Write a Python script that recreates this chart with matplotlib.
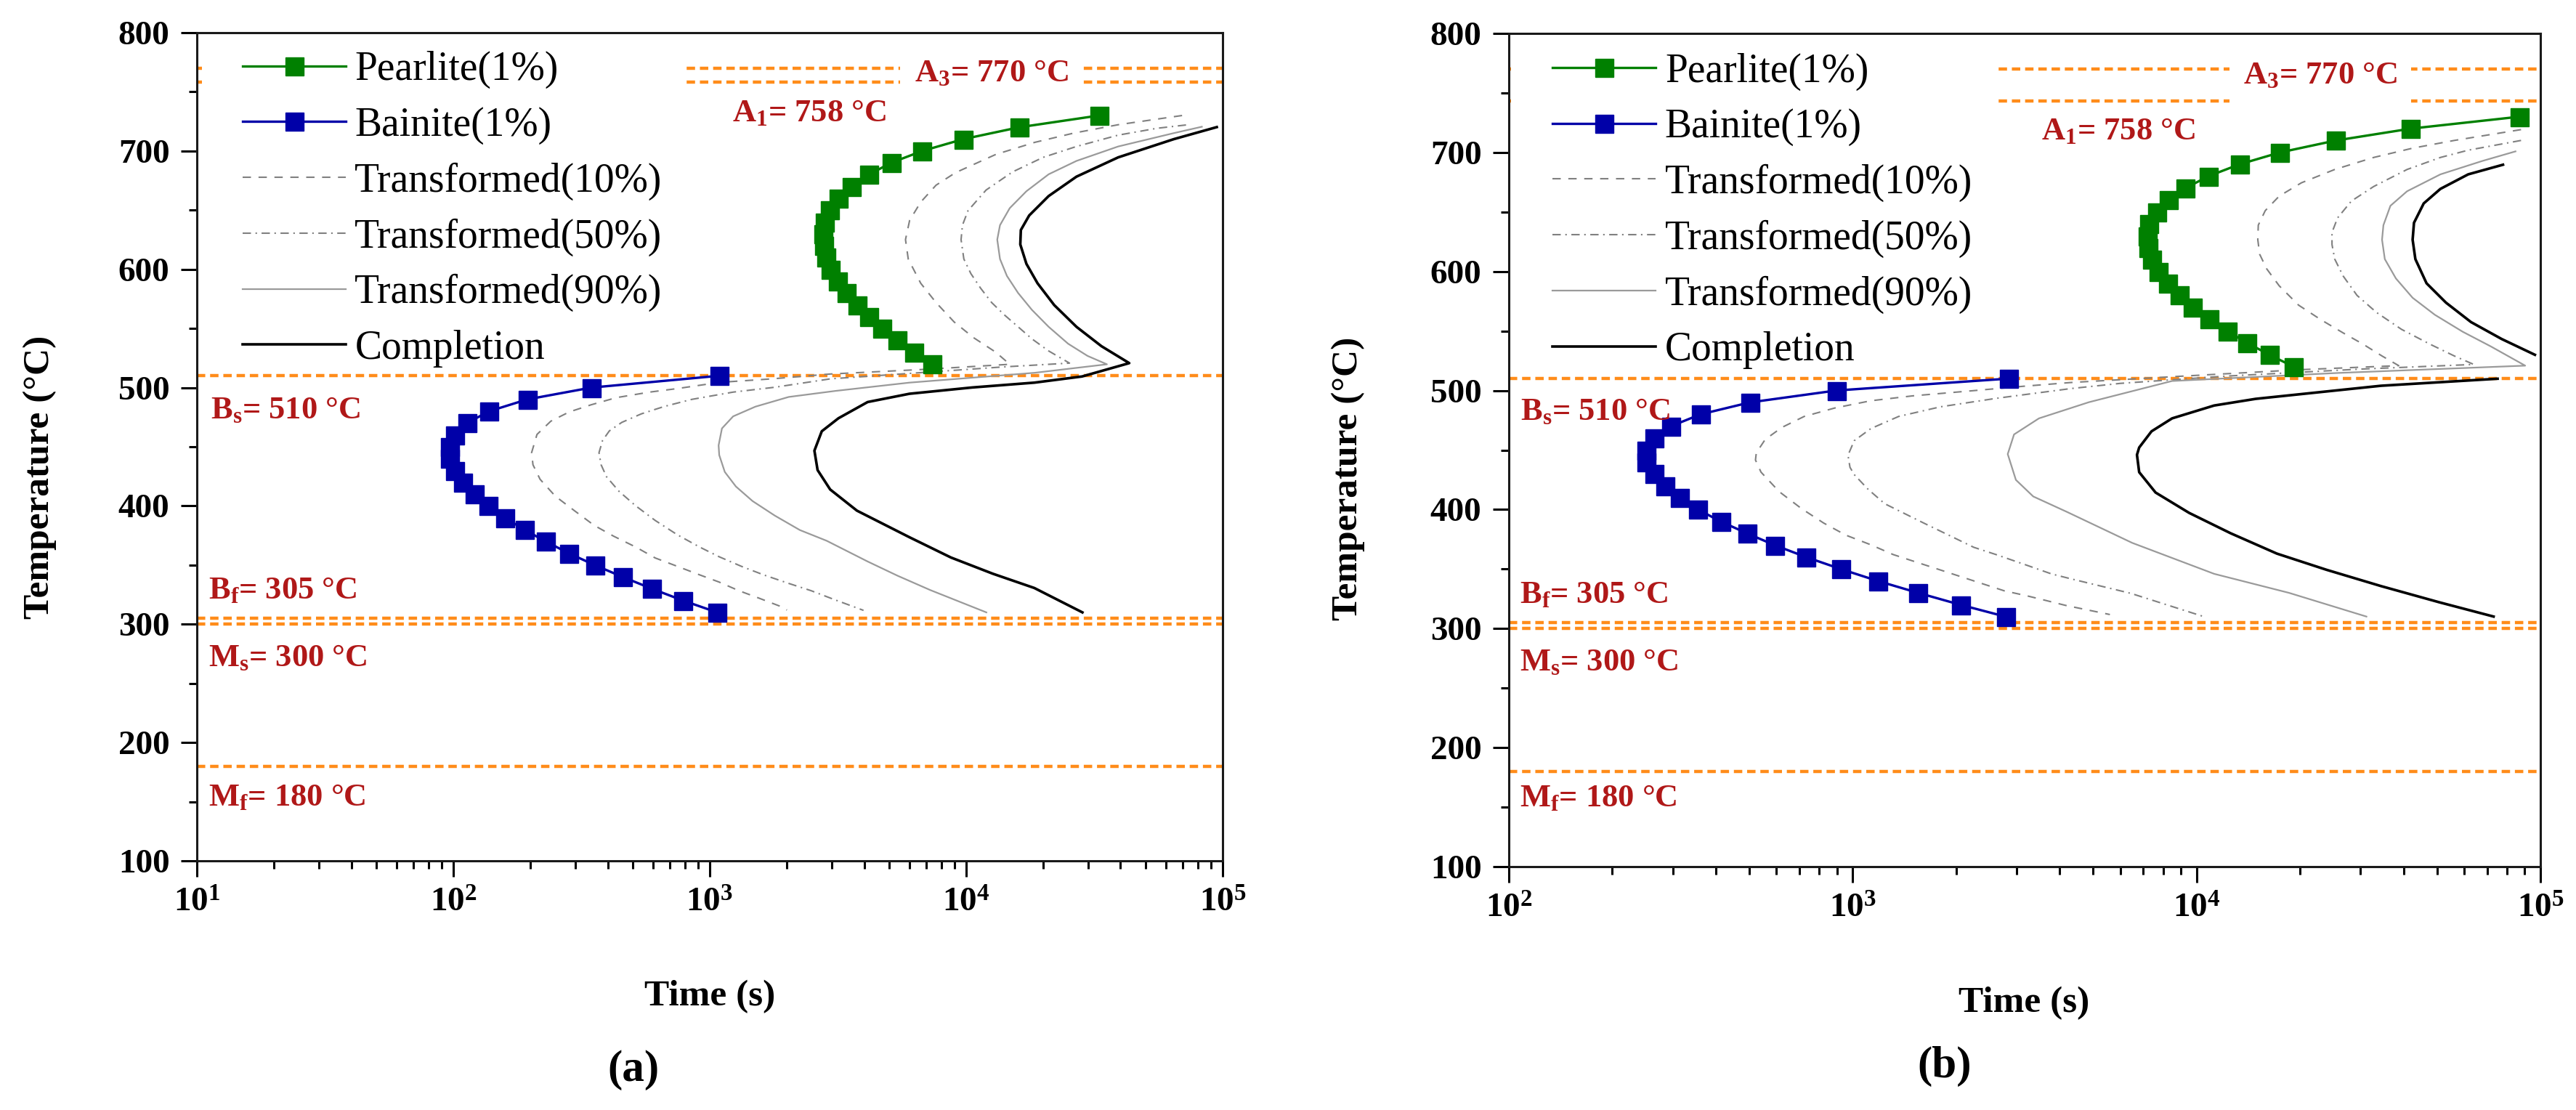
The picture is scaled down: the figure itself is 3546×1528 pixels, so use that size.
import math

import matplotlib
matplotlib.use("Agg")
import matplotlib.pyplot as plt
from matplotlib.ticker import MultipleLocator, LogLocator, FuncFormatter, NullFormatter
from matplotlib.transforms import blended_transform_factory
from matplotlib.patches import Rectangle

plt.rcParams["font.family"] = ["Liberation Serif", "DejaVu Serif"]
plt.rcParams["mathtext.default"] = "regular"

# ---------------- data ----------------
PEARLITE_T = [730, 720, 710, 700, 690, 680, 670, 660, 650, 640, 630,
              620, 610, 600, 590, 580, 570, 560, 550, 540, 530, 520]
BAINITE_T = [510, 500, 490, 480, 470, 460, 450, 440, 430, 420, 410,
             400, 390, 380, 370, 360, 350, 340, 330, 320, 310]

# panel (a)
A_PEARLITE_TIME = [32990, 16060, 9743, 6735, 5095, 4173, 3564, 3171, 2942, 2797, 2763,
                   2777, 2847, 2953, 3146, 3415, 3748, 4173, 4693, 5382, 6252, 7350]
A_BAINITE_TIME = [1089, 345, 194, 138, 113, 101.6, 96.8, 96.8, 101, 109, 120.5,
                  137, 159, 189, 229, 282, 356, 457, 595, 787, 1069]

A_T10_TIME = [69500, 39140, 26240, 18510, 13050, 9088, 7630, 6650, 6020, 5800, 5945,
              6650, 7630, 8975, 10690, 13050, 14790, 7000, 2955, 1750, 1089, 749, 583,
              432, 345, 283, 240, 212, 202, 204.5, 218, 250, 297, 354, 422, 515, 613,
              748, 914, 1089, 1297, 1545, 1886, 2000]
A_T10_TEMP = [730, 722.2, 715.1, 707.3, 697.1, 681.7, 671.1, 656.8, 641.4, 625.1, 608.7,
              588.2, 571.9, 555.5, 542.2, 529.9, 519.7, 515.5, 511.5, 507.4, 504.4, 499.2, 496.2,
              491.5, 485.5, 479.4, 471.6, 460.4, 445.0, 434.8, 422.5, 408.2, 395.9, 383.6, 374.4,
              365.2, 356.0, 348.9, 341.7, 335.6, 328.4, 322.3, 315.1, 312]

A_T50_TIME = [72000, 55500, 39140, 26900, 19950, 15160, 11960, 10170, 9673, 9553, 9795,
              10430, 11380, 12570, 14070, 15940, 18050, 20970, 25290, 14000, 7000, 2955,
              1794, 1234, 849, 661, 541, 454, 406, 382, 370, 377, 396, 443, 515, 613, 749,
              914, 1089, 1330, 1623, 2032, 2481, 3030, 3979]
A_T50_TEMP = [722, 719.2, 713.4, 703.8, 694.6, 682.3, 667.0, 649.6, 637.3, 625.1, 608.7,
              596.4, 584.1, 571.9, 561.6, 551.4, 541.2, 531.0, 520.7, 517.5, 513, 507.4,
              500.3, 496.2, 490.0, 483.9, 477.8, 470.6, 463.4, 455.3, 445.0, 434.8, 424.6,
              412.3, 400.0, 387.7, 375.5, 365.2, 357.0, 348.9, 341.7, 334.5, 328.4, 321.2, 311.7]

A_T90_TIME = [83000, 64490, 39140, 26920, 20970, 17180, 14790, 13550, 13220, 13550, 14420,
              15940, 18050, 20970, 24980, 29740, 35400, 18450, 6000, 3091, 2032, 1507, 1234,
              1116, 1083, 1089, 1145, 1265, 1469, 1794, 2246, 2860, 4130, 5400, 7240, 11990]
A_T90_TEMP = [720.5, 715.1, 703.8, 691.6, 680.3, 666.0, 651.7, 637.3, 625.1, 608.7, 594.4,
              580.0, 565.7, 551.4, 537.1, 526.8, 519.7, 512.5, 504.2, 497.2, 492.1, 483.9, 475.7,
              465.5, 451.2, 443.0, 428.7, 416.4, 404.1, 391.8, 379.6, 370.5, 353.0, 341, 328.9,
              310]

A_END_TIME = [94930, 64490, 39140, 26920, 20970, 17610, 16340, 16260, 17180, 18980, 22040,
              26920, 33700, 43250, 28300, 18450, 10540, 6010, 4128, 3177, 2735, 2560, 2634,
              2949, 3750, 6000, 8720, 12700, 18450, 28400]
A_END_TEMP = [720.2, 710.0, 694.6, 678.3, 661.9, 645.5, 633.2, 621.0, 604.6, 588.2, 569.8,
              551.4, 535.0, 520.7, 509.4, 504.2, 500.1, 494.8, 487.8, 474.1, 463.1, 446.7, 430.3,
              413.9, 396, 373.6, 356.4, 342.7, 330.6, 310]

# panel (b)
B_PEARLITE_TIME = [86700, 41950, 25370, 17480, 13320, 10820, 9285, 8287, 7664, 7275, 7181,
                   7222, 7426, 7736, 8227, 8896, 9727, 10880, 12270, 14040, 16290, 19160]
B_BAINITE_TIME = [2838, 895, 502, 361, 296, 264, 251, 251, 264, 284, 313,
                  355, 413, 493, 594, 733, 924, 1183, 1550, 2057, 2786]

B_T10_TIME = [87850, 56200, 42500, 32750, 25230, 20180, 17390, 15840, 15120, 15070, 15260,
              15990, 17390, 19810, 22990, 26690, 30390, 34630, 38720, 20000, 9000, 4299, 3145,
              2167, 1493, 1129, 886.6, 722.4, 622.5, 556.6, 524.4, 521.5, 541.3, 611, 709, 823,
              955, 1129, 1311, 1521, 1766, 2049, 2378, 2761, 3203, 3649, 4157, 5598]
B_T10_TEMP = [719.2, 710.1, 703.6, 695.8, 685.7, 674.5, 663.3, 651.1, 638.9, 626.7, 614.5,
              602.3, 588.0, 571.7, 559.5, 548.4, 539.2, 529.0, 520.9, 517.5, 512, 506.7, 503.6,
              499.5, 495.5, 491.4, 485.3, 478.2, 469.0, 458.9, 447.6, 441.6, 431.4, 415.1, 400.9,
              388.7, 378.5, 370.4, 362.2, 356.1, 350.0, 343.9, 337.8, 331.7, 327.6, 323.6, 319.5,
              311.8]

B_T50_TIME = [87850, 61660, 51200, 40950, 32750, 28210, 25710, 24770, 24770, 25230, 26690,
              29290, 33370, 39450, 47530, 56220, 64020, 30000, 12000, 6000, 4299, 2610, 1799,
              1360, 1129, 1010, 969, 982, 1010, 1108, 1239, 1608, 1902, 2249, 2610, 3145, 3788,
              4299, 6437, 10490]
B_T50_TEMP = [710.1, 701.9, 695.8, 685.7, 671.4, 659.2, 645.0, 632.8, 622.6, 610.4, 596.2,
              579.9, 565.6, 551.4, 539.2, 529.0, 521.9, 518, 512, 506, 501.6, 493.4, 486.3,
              478.2, 468.0, 457.8, 445.6, 435.5, 429.4, 417.1, 404.9, 388.7, 378.5, 368.3, 362.2,
              354.1, 345.9, 341.9, 329.6, 310.1]

B_T90_TIME = [84640, 67700, 51200, 40950, 36630, 34950, 34630, 35280, 38010, 42500, 49330,
              59420, 71590, 90320, 26000, 8490, 4865, 3481, 2946, 2824, 2983, 3350, 4200,
              6500, 11250, 18580, 31190]
B_T90_TEMP = [700.9, 692.8, 681.6, 667.4, 655.2, 638.9, 626.7, 610.4, 594.1, 577.9, 563.6,
              549.4, 537.2, 520.9, 514.8, 508, 490.2, 476.6, 463.1, 446.6, 424.9, 411, 398,
              372, 346, 330, 310.1]

B_END_UP_TIME = [77850, 61660, 51200, 45780, 42890, 42500, 43290, 46650, 53150, 62830,
                 77130, 96400]
B_END_UP_TEMP = [689.7, 681.6, 669.4, 657.2, 640.9, 626.7, 610.4, 590.1, 573.8, 557.5,
                 543.3, 530.0]
B_END_LOW_TIME = [75080, 34390, 14860, 11250, 8490, 7396, 6810, 6710, 6810, 7600, 9515,
                  12560, 17120, 23870, 34390, 50800, 73100]
B_END_LOW_TEMP = [509.9, 504, 493, 487.4, 476.6, 465.7, 452.1, 446, 431.4, 414.3, 397.2,
                  380.1, 363, 349.4, 335.7, 322.1, 310.1]

# critical temperatures (dotted orange lines)
A_CRIT_TEMPS = [770, 758, 510, 305, 300, 180]
B_CRIT_TEMPS = [770, 743, 510, 305, 300, 180]

CRIT_LABELS = ["A$_{3}$= 770 °C", "A$_{1}$= 758 °C", "B$_{s}$= 510 °C",
               "B$_{f}$= 305 °C", "M$_{s}$= 300 °C", "M$_{f}$= 180 °C"]

LEGEND_LABELS = ["Pearlite(1%)", "Bainite(1%)", "Transformed(10%)",
                 "Transformed(50%)", "Transformed(90%)", "Completion"]

Y_TICKS = [100, 200, 300, 400, 500, 600, 700, 800]

ORANGE = "#FF8C1A"
DARK_RED = "#B01818"
GREEN = "#008000"
BLUE = "#0000A8"


def style_axes(ax, xlim):
    ax.set_xscale("log")
    ax.set_xlim(*xlim)
    ax.set_ylim(100, 800)
    ax.set_yticks(Y_TICKS)
    ax.yaxis.set_minor_locator(MultipleLocator(50))
    ax.xaxis.set_major_locator(LogLocator(base=10))
    ax.xaxis.set_minor_locator(LogLocator(base=10, subs=range(2, 10)))
    ax.xaxis.set_minor_formatter(NullFormatter())
    ax.xaxis.set_major_formatter(
        FuncFormatter(lambda v, p: r"10$^{%d}$" % round(math.log10(v))))
    ax.tick_params(which="both", direction="out", top=False, right=False,
                   width=2.2, labelsize=34, pad=11)
    ax.tick_params(which="major", length=16)
    ax.tick_params(which="minor", length=8)
    for lab in ax.get_xticklabels() + ax.get_yticklabels():
        lab.set_fontweight("bold")
    for sp in ax.spines.values():
        sp.set_linewidth(2.2)
        sp.set_color("#1a1a1a")
        sp.set_zorder(10)


def draw_panel(ax, xlim, pearl_t, bain_t, curves, crit_temps, label_pos, mask_x, legend_xy):
    style_axes(ax, xlim)

    dot = (0, (2.6, 1.5))
    for temp in crit_temps:
        ax.axhline(temp, color=ORANGE, lw=3.2, ls=dot, zorder=2)

    # white area behind the legend hides the upper dotted lines
    trans = blended_transform_factory(ax.transAxes, ax.transData)
    ax.add_patch(Rectangle((mask_x[0], 735), mask_x[1] - mask_x[0], 45,
                           transform=trans, facecolor="white", edgecolor="none",
                           zorder=2.1))

    h_p, = ax.plot(pearl_t, PEARLITE_T, color=GREEN, lw=2.4, marker="s", ms=18,
                   mec=GREEN, zorder=4)
    h_b, = ax.plot(bain_t, BAINITE_T, color=BLUE, lw=2.4, marker="s", ms=18,
                   mec=BLUE, zorder=4)

    (t10, T10), (t50, T50), (t90, T90), ends = curves
    h10, = ax.plot(t10, T10, color="#808080", lw=1.5, ls=(0, (5.5, 5)), zorder=3)
    h50, = ax.plot(t50, T50, color="#808080", lw=1.5, ls=(0, (5.5, 3, 1, 3)), zorder=3)
    h90, = ax.plot(t90, T90, color="#9a9a9a", lw=1.6, zorder=3)
    h100 = None
    for te, Te in ends:
        h100, = ax.plot(te, Te, color="black", lw=2.6, zorder=3)

    for i, (lab, (x, y)) in enumerate(zip(CRIT_LABELS, label_pos)):
        kw = dict(color=DARK_RED, fontsize=32, fontweight="bold", ha="left",
                  va="baseline", zorder=6)
        if i == 0:
            kw["bbox"] = dict(facecolor="white", edgecolor="none", pad=14)
            kw["zorder"] = 5
        ax.text(x, y, lab, **kw)

    ax.legend([h_p, h_b, h10, h50, h90, h100], LEGEND_LABELS,
              loc="upper left", bbox_to_anchor=legend_xy, frameon=False,
              fontsize=40, borderpad=0, borderaxespad=0, handlelength=2.55,
              handletextpad=0.23, labelspacing=0.44, numpoints=1)


fig = plt.figure(figsize=(35.46, 15.28), dpi=100)
ax_a = fig.add_axes([0.07642, 0.22448, 0.39819, 0.74607])
ax_b = fig.add_axes([0.58573, 0.21924, 0.40045, 0.75065])

draw_panel(ax_a, (10, 1e5), A_PEARLITE_TIME, A_BAINITE_TIME,
           [(A_T10_TIME, A_T10_TEMP), (A_T50_TIME, A_T50_TEMP),
            (A_T90_TIME, A_T90_TEMP), [(A_END_TIME, A_END_TEMP)]],
           A_CRIT_TEMPS,
           [(6280, 759.1), (1224, 724.9), (11.3, 474.1), (11.1, 321.4),
            (11.1, 264.3), (11.1, 146.8)],
           (0.005, 0.4766), (0.0446, 0.978))

draw_panel(ax_b, (100, 1e5), B_PEARLITE_TIME, B_BAINITE_TIME,
           [(B_T10_TIME, B_T10_TEMP), (B_T50_TIME, B_T50_TEMP),
            (B_T90_TIME, B_T90_TEMP),
            [(B_END_UP_TIME, B_END_UP_TEMP), (B_END_LOW_TIME, B_END_LOW_TEMP)]],
           B_CRIT_TEMPS,
           [(13680, 757.8), (3531, 710.9), (108, 475.3), (107.4, 321.4),
            (107.4, 265.0), (107.4, 150.7)],
           (0.002, 0.4733), (0.0426, 0.977))

for fx, fy in [(0.01551, 0.570), (0.5234, 0.5687)]:
    fig.text(fx, fy, "Temperature (°C)", rotation=90, ha="center", va="center",
             fontsize=37, fontweight="bold")
for fx, fy in [(0.2755, 0.1021), (0.7857, 0.0964)]:
    fig.text(fx, fy, "Time (s)", ha="center", va="center", fontsize=37,
             fontweight="bold")
fig.text(0.2459, 0.036, "(a)", ha="center", va="center", fontsize=44, fontweight="bold")
fig.text(0.7547, 0.0396, "(b)", ha="center", va="center", fontsize=44, fontweight="bold")

fig.savefig("out.png", dpi=100, facecolor="white")
